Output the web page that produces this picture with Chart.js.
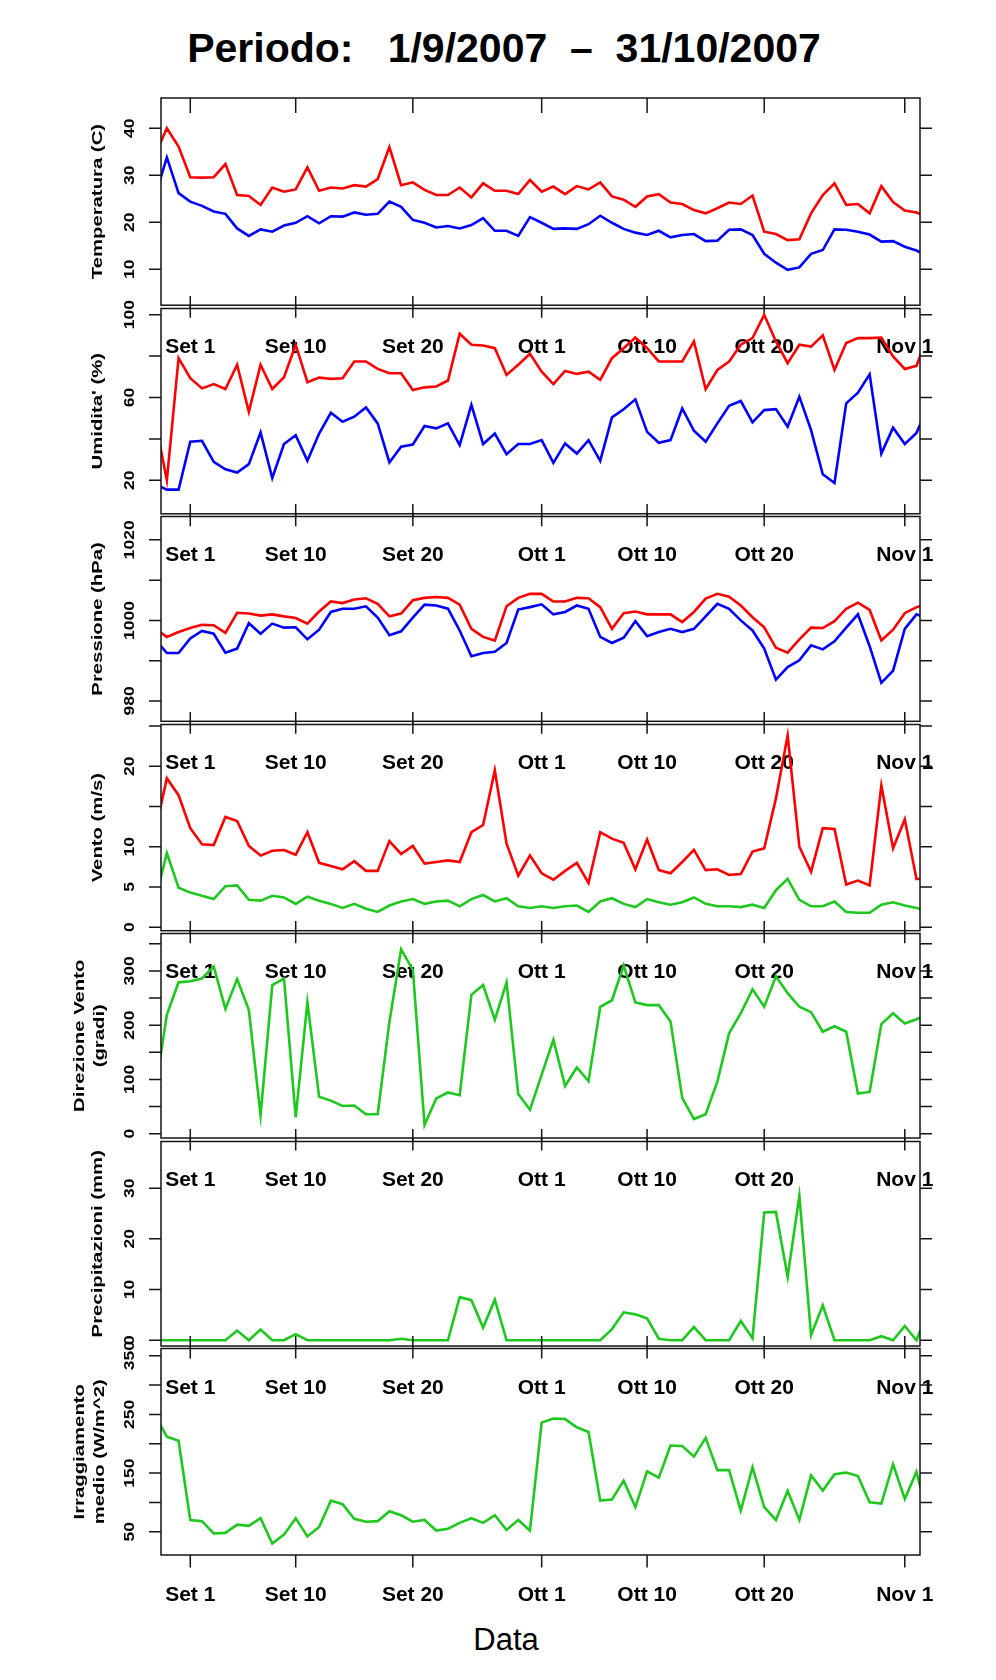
<!DOCTYPE html>
<html>
<head>
<meta charset="utf-8">
<title>Periodo 1/9/2007 - 31/10/2007</title>
<script src="https://cdn.jsdelivr.net/npm/chart.js@4.4.0/dist/chart.umd.min.js"></script>
<style>
  html, body { margin: 0; padding: 0; background: #fff; }
  #page { position: relative; width: 996px; height: 1680px; overflow: hidden; }
  #page canvas { position: absolute; left: 0; }
  .title { position: absolute; left: 0; width: 1008px; top: 28px; text-align: center; white-space: pre;
           font: bold 41px/41px "Liberation Sans", Arial, Helvetica, sans-serif; color: #000; }
  .xlab { position: absolute; left: 0; width: 1012px; top: 1624px; text-align: center;
          font: 31px/31px "Liberation Sans", Arial, Helvetica, sans-serif; color: #000; }
</style>
</head>
<body>
<div id="page">
  <div class="title">Periodo:   1/9/2007  –  31/10/2007</div>
  <div class="xlab">Data</div>
</div>
<script>
// Days counted from 1 Sept 2007 (day 0); the series run a little past both plot edges
const days = [-3, -2, -1, 0, 1, 2, 3, 4, 5, 6,
  7, 8, 9, 10, 11, 12, 13, 14, 15, 16,
  17, 18, 19, 20, 21, 22, 23, 24, 25, 26,
  27, 28, 29, 30, 31, 32, 33, 34, 35, 36,
  37, 38, 39, 40, 41, 42, 43, 44, 45, 46,
  47, 48, 49, 50, 51, 52, 53, 54, 55, 56,
  57, 58, 59, 60, 61, 62, 63];

const xTickDays = [0, 9, 19, 30, 39, 49, 61];
const xTickLabels = ["Set 1", "Set 10", "Set 20", "Ott 1", "Ott 10", "Ott 20", "Nov 1"];

// Temperatura (C)
const tempMax = [34.4, 40.0, 36.1, 29.6, 29.5, 29.6, 32.4, 25.8, 25.6, 23.7,
  27.4, 26.5, 27.0, 31.7, 26.7, 27.4, 27.2, 27.9, 27.6, 29.2,
  36.0, 27.9, 28.5, 26.9, 25.8, 25.8, 27.4, 25.3, 28.3, 26.7,
  26.7, 26.0, 29.0, 26.5, 27.6, 26.0, 27.7, 27.0, 28.5, 25.5,
  24.8, 23.3, 25.5, 26.0, 24.2, 23.9, 22.6, 21.9, 23.0, 24.2,
  23.9, 25.7, 18.0, 17.5, 16.2, 16.4, 21.9, 25.8, 28.3, 23.7,
  23.9, 21.9, 27.7, 24.3, 22.5, 22.1, 21.1];
const tempMin = [25.6, 33.8, 26.2, 24.4, 23.5, 22.3, 21.8, 18.7, 17.1, 18.5,
  18.0, 19.3, 19.9, 21.3, 19.8, 21.3, 21.2, 22.1, 21.6, 21.8,
  24.4, 23.3, 20.5, 19.9, 18.9, 19.2, 18.7, 19.4, 20.9, 18.2,
  18.2, 17.1, 21.1, 19.9, 18.6, 18.7, 18.6, 19.6, 21.4, 19.9,
  18.6, 17.8, 17.3, 18.2, 16.8, 17.3, 17.5, 16.0, 16.1, 18.4,
  18.5, 17.3, 13.3, 11.4, 9.9, 10.4, 13.3, 14.1, 18.5, 18.4,
  18.0, 17.4, 15.9, 16.0, 14.8, 14.0, 12.7];
const tempTicks = [10, 20, 30, 40];
const tempLabels = [10, 20, 30, 40];

// Umidita' (%)
const humMax = [49, 20, 79, 69.3, 64.4, 66.5, 64.1, 75.8, 53.1, 75.8,
  64.1, 69.8, 85.5, 67.4, 69.6, 69.0, 69.3, 77.4, 77.4, 73.8,
  71.7, 71.7, 63.6, 64.9, 65.3, 68.2, 90.8, 85.5, 85.1, 83.8,
  70.9, 75.8, 81.1, 72.5, 66.5, 72.8, 71.4, 72.5, 68.5, 79.0,
  83.8, 89.0, 83.8, 77.4, 77.4, 77.4, 87.1, 64.0, 73.3, 77.4,
  85.5, 88.7, 100, 87.1, 76.6, 85.5, 84.6, 90.0, 73.3, 86.3,
  88.7, 88.7, 89.0, 79.8, 73.8, 75.3, 90.3];
const humMin = [18.1, 15.5, 15.5, 38.6, 39.1, 28.9, 25.3, 23.7, 27.8, 43.1,
  21.1, 37.5, 41.8, 29.4, 42.6, 52.6, 48.3, 50.7, 55.2, 47.5,
  28.6, 36.2, 37.3, 46.2, 45.1, 47.5, 37.0, 56.4, 37.5, 42.6,
  32.6, 37.5, 37.5, 39.4, 28.4, 37.8, 32.9, 39.4, 29.4, 50.4,
  54.3, 59.1, 43.4, 38.1, 39.4, 54.7, 43.9, 38.6, 47.5, 56.0,
  58.3, 48.0, 53.9, 54.4, 45.9, 60.4, 44.2, 22.9, 18.7, 57.2,
  62.3, 71.2, 32.9, 45.4, 37.5, 42.9, 55.6];
const humTicks = [20, 40, 60, 80, 100];
const humLabels = [20, 60, 100];

// Pressione (hPa)
const pressMax = [997.9, 995.9, 997.1, 998.1, 998.9, 998.8, 996.9, 1001.9, 1001.7, 1001.2,
  1001.5, 1001.0, 1000.6, 999.2, 1002.2, 1004.7, 1004.3, 1005.2, 1005.5, 1004.1,
  1001.0, 1001.7, 1005.0, 1005.6, 1005.8, 1005.6, 1003.9, 997.9, 995.9, 995.0,
  1003.5, 1005.6, 1006.6, 1006.6, 1004.7, 1004.7, 1005.6, 1005.5, 1003.3, 997.9,
  1001.8, 1002.2, 1001.5, 1001.5, 1001.5, 999.6, 1002.1, 1005.4, 1006.6, 1005.9,
  1003.7, 1000.8, 998.3, 993.2, 992.0, 995.3, 998.2, 998.1, 999.8, 1002.9,
  1004.4, 1002.6, 995.0, 997.7, 1001.8, 1003.3, 1004.0];
const pressMin = [995.3, 991.9, 991.9, 995.5, 997.4, 996.7, 992.0, 993.0, 999.3, 996.7,
  999.2, 998.2, 998.3, 995.3, 997.7, 1002.1, 1002.9, 1002.9, 1003.5, 1000.7,
  996.3, 997.3, 1000.7, 1003.9, 1003.7, 1002.9, 997.5, 991.1, 991.9, 992.2,
  994.4, 1002.7, 1003.3, 1004.0, 1001.5, 1002.1, 1003.7, 1002.9, 995.9, 994.4,
  995.7, 999.8, 996.1, 997.1, 997.9, 997.1, 997.9, 1001.0, 1004.1, 1002.9,
  1000.0, 997.5, 993.0, 985.3, 988.4, 990.1, 993.8, 992.8, 994.8, 998.2,
  1001.5, 993.6, 984.5, 987.5, 997.9, 1001.5, 1000.5];
const pressTicks = [980, 990, 1000, 1010, 1020];
const pressLabels = [980, 1000, 1020];

// Vento (m/s)
const windMax = [11.9, 18.5, 16.4, 12.3, 10.3, 10.2, 13.7, 13.2, 10.1, 8.9,
  9.5, 9.6, 9.0, 11.8, 8.0, 7.6, 7.2, 8.2, 7.0, 7.0,
  10.7, 9.1, 10.1, 7.9, 8.1, 8.3, 8.1, 11.8, 12.7, 19.5,
  10.4, 6.4, 8.9, 6.7, 5.9, 7.0, 8.0, 5.5, 11.8, 11.0,
  10.5, 7.2, 10.9, 7.1, 6.7, 8.1, 9.6, 7.1, 7.2, 6.5,
  6.6, 9.4, 9.8, 16.0, 23.8, 10.0, 6.9, 12.3, 12.2, 5.3,
  5.8, 5.2, 17.6, 9.8, 13.4, 6.0, 6.0];
const windMean = [3.4, 9.2, 4.9, 4.3, 3.9, 3.5, 5.1, 5.2, 3.4, 3.3,
  3.9, 3.7, 2.9, 3.8, 3.3, 2.9, 2.4, 2.9, 2.3, 1.9,
  2.7, 3.2, 3.5, 2.9, 3.2, 3.3, 2.6, 3.5, 4.0, 3.2,
  3.6, 2.6, 2.4, 2.6, 2.4, 2.6, 2.7, 1.9, 3.2, 3.6,
  2.9, 2.5, 3.5, 3.1, 2.8, 3.1, 3.7, 2.9, 2.6, 2.6,
  2.5, 2.8, 2.4, 4.6, 6.0, 3.4, 2.6, 2.6, 3.2, 1.9,
  1.8, 1.8, 2.8, 3.1, 2.7, 2.4, 2.0];
const windTicks = [0, 5, 10, 15, 20, 25];
const windLabels = [0, 5, 10, 20];

// Direzione Vento (gradi)
const windDir = [77, 219, 279, 281, 286, 308, 230, 285, 228, 34,
  274, 286, 30, 242, 68, 61, 51, 52, 36, 36,
  206, 340, 302, 16, 65, 76, 71, 256, 274, 210,
  279, 73, 44, 109, 173, 88, 122, 97, 234, 246,
  310, 242, 237, 237, 207, 66, 27, 36, 96, 185,
  222, 266, 234, 290, 259, 234, 224, 188, 198, 188,
  74, 77, 202, 222, 203, 211, 221];
const dirTicks = [0, 50, 100, 150, 200, 250, 300, 350];
const dirLabels = [0, 100, 200, 300];

// Precipitazioni (mm)
const rain = [0, 0, 0, 0, 0, 0, 0, 1.9, 0, 2.1,
  0, 0, 1.2, 0, 0, 0, 0, 0, 0, 0,
  0, 0.3, 0, 0, 0, 0, 8.5, 7.9, 2.5, 8.0,
  0, 0, 0, 0, 0, 0, 0, 0, 0, 2.2,
  5.5, 5.1, 4.3, 0.3, 0, 0, 2.6, 0, 0, 0,
  3.8, 0.4, 25.2, 25.3, 12.5, 28.5, 1.0, 6.9, 0, 0,
  0, 0, 0.8, 0, 2.8, 0, 6];
const rainTicks = [0, 10, 20, 30];
const rainLabels = [0, 10, 20, 30];

// Irraggiamento medio (W/m^2)
const irr = [248, 212, 205, 70, 68, 47, 48, 62, 60, 73,
  30, 45, 73, 42, 58, 103, 97, 72, 67, 68,
  85, 78, 67, 70, 52, 55, 65, 73, 65, 78,
  53, 70, 52, 236, 243, 242, 228, 220, 103, 105,
  137, 92, 153, 142, 197, 196, 178, 210, 155, 155,
  86, 160, 92, 70, 120, 70, 146, 120, 148, 151,
  145, 100, 98, 165, 106, 152, 72];
const irrTicks = [50, 100, 150, 200, 250, 300, 350];
const irrLabels = [50, 150, 250, 350];

const RED = "#ff0000", BLUE = "#0000ff", GREEN = "#1ec81e", AXIS = "#151515";
const FONT = '"Liberation Sans", Arial, Helvetica, sans-serif';

// page geometry
const edges = [98, 306.7, 515, 722.8, 932, 1139.5, 1347, 1555];
const plotLeft = 161, plotRight = 920, pageW = 996;
const xMin = -2.5, xMax = 62.3;

const panels = [
  { title: ["Temperatura (C)"], yMin: 2.36, yMax: 46.45, ticks: tempTicks, labels: tempLabels,
    series: [[tempMax, RED], [tempMin, BLUE]] },
  { title: ["Umidita' (%)"], yMin: 3.8, yMax: 103.0, ticks: humTicks, labels: humLabels,
    series: [[humMax, RED], [humMin, BLUE]] },
  { title: ["Pressione (hPa)"], yMin: 974.95, yMax: 1025.8, ticks: pressTicks, labels: pressLabels,
    series: [[pressMax, RED], [pressMin, BLUE]] },
  { title: ["Vento (m/s)"], yMin: -0.43, yMax: 25.18, ticks: windTicks, labels: windLabels,
    series: [[windMax, RED], [windMean, GREEN]] },
  { title: ["Direzione Vento", "(gradi)"], yMin: -7.9, yMax: 369, ticks: dirTicks, labels: dirLabels,
    series: [[windDir, GREEN]] },
  { title: ["Precipitazioni (mm)"], yMin: -1.14, yMax: 39.2, ticks: rainTicks, labels: rainLabels,
    series: [[rain, GREEN]] },
  { title: ["Irraggiamento", "medio (W/m^2)"], yMin: 10.3, yMax: 362.3, ticks: irrTicks, labels: irrLabels,
    series: [[irr, GREEN]] }
];

// rotated text reading bottom-to-top, stretched along its length
function rotText(ctx, text, x, y, stretch) {
  ctx.save();
  ctx.translate(x, y);
  ctx.rotate(-Math.PI / 2);
  ctx.scale(stretch, 1);
  ctx.textAlign = "center";
  ctx.textBaseline = "alphabetic";
  ctx.fillText(text, 0, 0);
  ctx.restore();
}

const page = document.getElementById("page");

function makePanel(k, p) {
  const top = edges[k] - 20;
  const h = Math.round(edges[k + 1] + 60 - top);
  const areaTop = edges[k] + (k ? 1.5 : 0) - top;
  const areaBottom = edges[k + 1] - (k < 6 ? 1.5 : 0) - top;
  const labelY = edges[k + 1] + 46 - top;

  const canvas = document.createElement("canvas");
  canvas.width = pageW;
  canvas.height = h;
  canvas.style.top = top + "px";
  canvas.style.width = pageW + "px";
  canvas.style.height = h + "px";
  page.appendChild(canvas);

  const axesPlugin = {
    id: "panelAxes",
    afterDatasetsDraw(chart) {
      const { ctx, chartArea: a } = chart;
      const xs = chart.scales.x, ys = chart.scales.y;
      ctx.save();
      ctx.strokeStyle = AXIS;
      ctx.fillStyle = "#000";
      ctx.lineWidth = 1.5;
      ctx.strokeRect(a.left, a.top, a.right - a.left, a.bottom - a.top);

      ctx.beginPath();
      xTickDays.forEach(d => {
        const px = xs.getPixelForValue(d);
        ctx.moveTo(px, a.top);
        ctx.lineTo(px, k === 0 ? a.top + 15 : a.top - 12.5);
        ctx.moveTo(px, a.bottom);
        ctx.lineTo(px, a.bottom + 12.5);
      });
      p.ticks.forEach(v => {
        const py = ys.getPixelForValue(v);
        ctx.moveTo(a.left - 12, py);
        ctx.lineTo(a.left, py);
        ctx.moveTo(a.right, py);
        ctx.lineTo(a.right + 12, py);
      });
      ctx.stroke();

      ctx.font = "bold 21px " + FONT;
      ctx.textAlign = "center";
      ctx.textBaseline = "alphabetic";
      xTickDays.forEach((d, i) => ctx.fillText(xTickLabels[i], xs.getPixelForValue(d), labelY));

      ctx.font = "bold 15px " + FONT;
      p.labels.forEach(v => rotText(ctx, String(v), 133.5, ys.getPixelForValue(v), 1.17));

      ctx.font = "bold 15.5px " + FONT;
      const cy = (a.top + a.bottom) / 2;
      const lines = p.title.length === 1 ? [102] : [84, 104];
      p.title.forEach((t, i) => rotText(ctx, t, lines[i], cy, 1.31));
      ctx.restore();
    }
  };

  new Chart(canvas, {
    type: "line",
    data: {
      datasets: p.series.map(([values, color]) => ({
        data: values.map((v, i) => ({ x: days[i], y: v })),
        borderColor: color,
        borderWidth: 2.6,
        pointRadius: 0,
        tension: 0,
        fill: false
      }))
    },
    options: {
      responsive: false,
      animation: false,
      events: [],
      layout: { padding: { left: plotLeft, right: pageW - plotRight, top: areaTop, bottom: h - areaBottom } },
      scales: {
        x: { type: "linear", min: xMin, max: xMax, display: false },
        y: { type: "linear", min: p.yMin, max: p.yMax, display: false }
      },
      plugins: { legend: { display: false }, tooltip: { enabled: false } }
    },
    plugins: [axesPlugin]
  });
}

panels.forEach((p, k) => makePanel(k, p));
</script>
</body>
</html>
